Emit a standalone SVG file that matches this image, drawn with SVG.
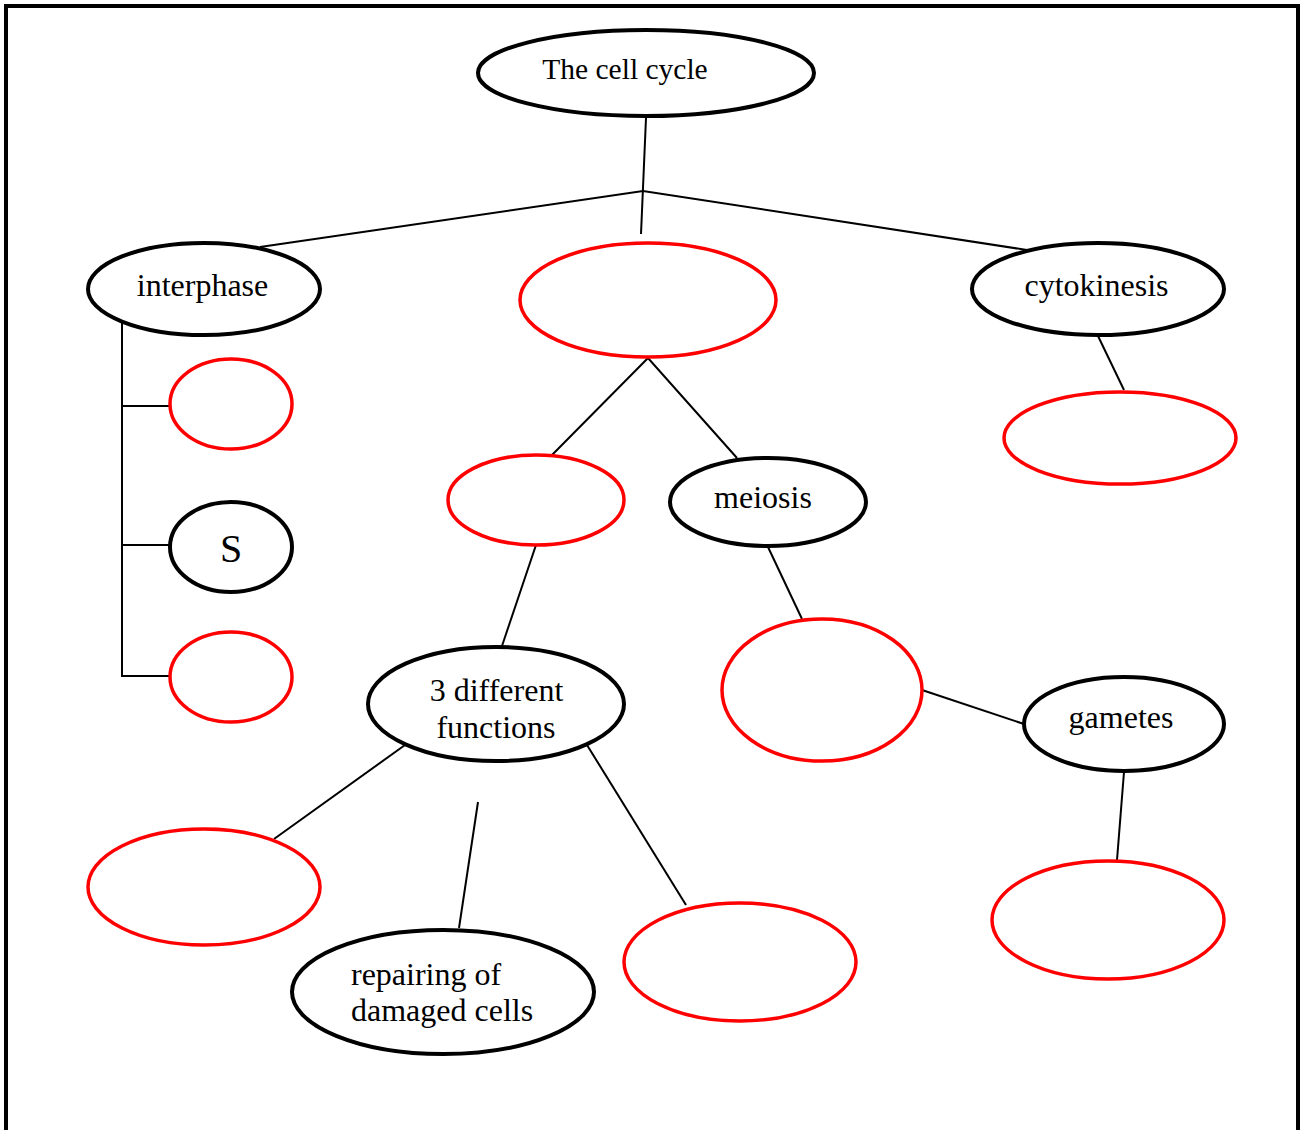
<svg xmlns="http://www.w3.org/2000/svg" width="1301" height="1130" viewBox="0 0 1301 1130">
<style>
.n{fill:#fff;stroke:#000;stroke-width:4}
.r{fill:#fff;stroke:#f00;stroke-width:3.5}
.c{stroke:#000;stroke-width:2;fill:none}
text{font-family:"Liberation Serif","Times New Roman",serif;font-size:32px;fill:#000}
</style>
<defs><clipPath id="fclip"><rect x="360" y="640" width="280" height="99"/></clipPath></defs>
<rect x="0" y="0" width="1301" height="1130" fill="#fff"/>
<path d="M6,1135 V6 H1298 V1135" fill="none" stroke="#000" stroke-width="4"/>
<g id="connectors">
<line class="c" x1="646" y1="118" x2="641" y2="234"/>
<polyline class="c" points="260,247 643,191 1027,250"/>
<line class="c" x1="122" y1="322" x2="122" y2="677"/>
<line class="c" x1="122" y1="406" x2="170" y2="406"/>
<line class="c" x1="122" y1="545" x2="170" y2="545"/>
<line class="c" x1="122" y1="676" x2="170" y2="676"/>
<line class="c" x1="1098" y1="336" x2="1124" y2="390"/>
<polyline class="c" points="552,455 648,358 737,458"/>
<line class="c" x1="536" y1="545" x2="502" y2="646"/>
<line class="c" x1="768" y1="547" x2="802" y2="619"/>
<line class="c" x1="922" y1="690" x2="1024" y2="724"/>
<line class="c" x1="1124" y1="772" x2="1117" y2="860"/>
<line class="c" x1="405" y1="745" x2="274" y2="839"/>
<line class="c" x1="478" y1="802" x2="459" y2="928"/>
<line class="c" x1="587" y1="745" x2="686" y2="905"/>
</g>
<g id="cellcycle"><ellipse class="n" cx="646" cy="73" rx="168" ry="43"/><text x="625" y="79" text-anchor="middle" style="font-size:29.5px">The cell cycle</text></g>
<g id="interphase"><ellipse class="n" cx="204" cy="289" rx="116" ry="46"/><text x="202.5" y="296" text-anchor="middle">interphase</text></g>
<g id="mitosisparent"><ellipse class="r" cx="648" cy="300" rx="128" ry="57"/></g>
<g id="cytokinesis"><ellipse class="n" cx="1098" cy="289" rx="126" ry="46"/><text x="1096.5" y="296" text-anchor="middle">cytokinesis</text></g>
<g id="g1"><ellipse class="r" cx="231" cy="404" rx="61" ry="45"/></g>
<g id="s"><ellipse class="n" cx="231" cy="547" rx="61" ry="45"/><text x="231" y="562" text-anchor="middle" style="font-size:40px">S</text></g>
<g id="g2"><ellipse class="r" cx="231" cy="677" rx="61" ry="45"/></g>
<g id="cytochild"><ellipse class="r" cx="1120" cy="438" rx="116" ry="46"/></g>
<g id="mitosis"><ellipse class="r" cx="536" cy="500" rx="88" ry="45"/></g>
<g id="meiosis"><ellipse class="n" cx="768" cy="502" rx="98" ry="44"/><text x="763" y="508" text-anchor="middle">meiosis</text></g>
<g id="functions"><ellipse class="n" cx="496" cy="704" rx="128" ry="57"/><text x="496.5" y="701" text-anchor="middle">3 different</text><text x="496" y="738" text-anchor="middle" clip-path="url(#fclip)">functions</text></g>
<g id="meiosischild"><ellipse class="r" cx="822" cy="690" rx="100" ry="71"/></g>
<g id="gametes"><ellipse class="n" cx="1124" cy="724" rx="100" ry="47"/><text x="1121" y="728" text-anchor="middle">gametes</text></g>
<g id="func1"><ellipse class="r" cx="204" cy="887" rx="116" ry="58"/></g>
<g id="repairing"><ellipse class="n" cx="443" cy="992" rx="151" ry="62"/><text x="351" y="985">repairing of</text><text x="351" y="1021">damaged cells</text></g>
<g id="func3"><ellipse class="r" cx="740" cy="962" rx="116" ry="59"/></g>
<g id="gametechild"><ellipse class="r" cx="1108" cy="920" rx="116" ry="59"/></g>
</svg>
